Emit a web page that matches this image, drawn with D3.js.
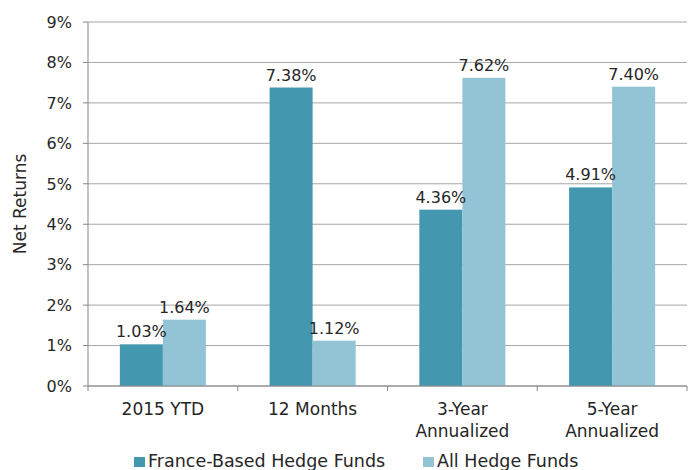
<!DOCTYPE html>
<html>
<head>
<meta charset="utf-8">
<script src="https://cdn.jsdelivr.net/npm/d3@7"></script>
<style>
  body { margin: 0; background: #fff; }
  text { font-family: "DejaVu Sans", sans-serif; fill: #262626; }
</style>
</head>
<body>
<div id="chart"></div>
<script>
// data
const categories = [["2015 YTD"], ["12 Months"], ["3-Year", "Annualized"], ["5-Year", "Annualized"]];
const seriesNames = ["France-Based Hedge Funds", "All Hedge Funds"];
const franceValues = [1.03, 7.38, 4.36, 4.91];
const allValues = [1.64, 1.12, 7.62, 7.40];
const yTicks = [0, 1, 2, 3, 4, 5, 6, 7, 8, 9];
const colors = ["#4398b0", "#93c4d6"];

const width = 697, height = 470;
const margin = {top: 22, right: 10, bottom: 84, left: 88};
const w = width - margin.left - margin.right;
const h = height - margin.top - margin.bottom;

const svg = d3.select("#chart").append("svg")
    .attr("width", width)
    .attr("height", height);

const g = svg.append("g")
    .attr("transform", `translate(${margin.left},${margin.top})`);

const x = d3.scaleBand()
    .domain(d3.range(categories.length))
    .range([0, w])
    .paddingInner(0)
    .paddingOuter(0);

const x1 = d3.scaleBand()
    .domain([0, 1])
    .range([0, x.bandwidth()])
    .paddingInner(0)
    .paddingOuter(0.74);

const y = d3.scaleLinear()
    .domain([0, 9])
    .range([h, 0]);

// gridlines
g.selectAll(".grid")
    .data(yTicks)
    .enter().append("line")
    .attr("class", "grid")
    .attr("x1", 0)
    .attr("x2", w)
    .attr("y1", d => y(d))
    .attr("y2", d => y(d))
    .attr("stroke", "#a6a6a6")
    .attr("stroke-width", 1);

// y ticks + labels
g.selectAll(".ytick")
    .data(yTicks)
    .enter().append("line")
    .attr("x1", -5).attr("x2", 0)
    .attr("y1", d => y(d)).attr("y2", d => y(d))
    .attr("stroke", "#868686");

g.selectAll(".ylab")
    .data(yTicks)
    .enter().append("text")
    .attr("x", -16)
    .attr("y", d => y(d))
    .attr("dy", "0.36em")
    .attr("text-anchor", "end")
    .attr("font-size", 16)
    .text(d => d + "%");

// bars
const rows = categories.map((c, i) => [franceValues[i], allValues[i]]);

const groups = g.selectAll(".grp")
    .data(rows)
    .enter().append("g")
    .attr("transform", (d, i) => `translate(${x(i)},0)`);

groups.selectAll("rect")
    .data(d => d)
    .enter().append("rect")
    .attr("x", (d, j) => x1(j))
    .attr("width", x1.bandwidth())
    .attr("y", d => y(d))
    .attr("height", d => h - y(d))
    .attr("fill", (d, j) => colors[j]);

groups.selectAll(".val")
    .data(d => d)
    .enter().append("text")
    .attr("x", (d, j) => x1(j) + x1.bandwidth() / 2)
    .attr("y", d => y(d) - 7)
    .attr("text-anchor", "middle")
    .attr("font-size", 16)
    .text(d => d.toFixed(2) + "%");

// axis lines
g.append("line")
    .attr("x1", 0).attr("x2", 0)
    .attr("y1", 0).attr("y2", h)
    .attr("stroke", "#868686");

g.append("line")
    .attr("x1", 0).attr("x2", w)
    .attr("y1", h).attr("y2", h)
    .attr("stroke", "#868686");

// x ticks at category boundaries
g.selectAll(".xtick")
    .data(d3.range(categories.length + 1))
    .enter().append("line")
    .attr("x1", d => d * x.bandwidth())
    .attr("x2", d => d * x.bandwidth())
    .attr("y1", h).attr("y2", h + 5)
    .attr("stroke", "#868686");

// x labels
const xl = g.selectAll(".xlab")
    .data(categories)
    .enter().append("text")
    .attr("text-anchor", "middle")
    .attr("font-size", 17)
    .attr("transform", (d, i) => `translate(${x(i) + x.bandwidth() / 2},${h + 29})`);

xl.selectAll("tspan")
    .data(d => d)
    .enter().append("tspan")
    .attr("x", 0)
    .attr("dy", (d, k) => k === 0 ? 0 : 22)
    .text(d => d);

// y axis title
svg.append("text")
    .attr("transform", `translate(26,${margin.top + h / 2}) rotate(-90)`)
    .attr("text-anchor", "middle")
    .attr("font-size", 17)
    .text("Net Returns");

// legend
const legendPos = [134, 423];
const legend = svg.selectAll(".legend")
    .data(seriesNames)
    .enter().append("g")
    .attr("transform", (d, i) => `translate(${legendPos[i]},457)`);

legend.append("rect")
    .attr("width", 11)
    .attr("height", 10)
    .attr("fill", (d, i) => colors[i]);

legend.append("text")
    .attr("x", 14)
    .attr("y", 10)
    .attr("font-size", 17.5)
    .text(d => d);
</script>
</body>
</html>
